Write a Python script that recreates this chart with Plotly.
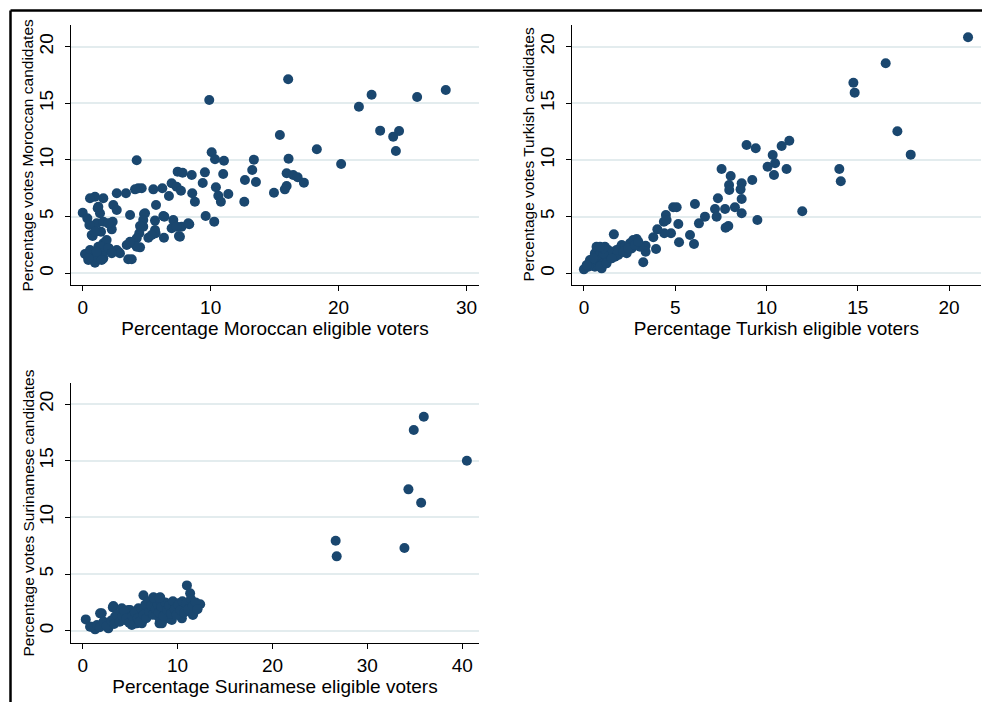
import plotly.graph_objects as go

# ---------------- Data ----------------
mor_x = [9.89, 16.06, 15.41, 18.3, 16.09, 10.08, 10.34, 11.04, 4.22, 13.38, 13.25, 9.55, 10.98, 7.42, 7.81,
         8.52, 15.94, 16.45, 16.8, 17.29, 12.68, 13.54, 9.38, 6.95, 7.34, 7.68, 10.41, 15.94, 15.8, 14.95,
         11.38, 10.6, 8.56, 6.74, 6.22, 5.52, 4.34, 4.61, 4.09, 3.38, 2.66, 8.77, 10.8, 12.63, 5.73,
         2.39, 2.66, 3.7, 4.79, 9.61, 10.28, 6.3, 5.65, 7.08, 8.33, 7.73, 6.95, 7.52, 6.35, 5.7,
         5.13, 4.73, 4.42, 4.22, 4.48, 3.95, 3.44, 3.56, 3.83, 2.78, 2.05, 2.34, 2.27, 1.43, 1.09,
         1.35, 1.17, 1.61, 0.96, 0.57, 0.0, 0.36, 0.52, 0.78, 0.18, 0.44, 0.96, 0.7, 1.35, 1.61,
         1.87, 1.61, 1.22, 1.09, 1.87, 1.22, 1.61, 2.0, 4.87, 4.73, 4.48, 5.65, 5.39, 6.38, 7.34,
         7.6, 8.25, 4.22, 3.7, 2.66, 2.91, 0.7, 0.96, 1.48, 2.0, 1.48, 2.27, 0.57, 1.09, 28.38,
         26.14, 22.58, 21.59, 23.25, 24.73, 24.27, 24.48, 20.2, 0.44]
mor_y = [15.3, 17.12, 12.2, 10.94, 10.11, 10.68, 10.06, 9.94, 9.97, 10.03, 9.12, 8.91, 8.76, 8.97, 8.88,
         8.68, 8.83, 8.68, 8.47, 8.0, 8.23, 8.06, 7.97, 7.94, 7.64, 7.29, 7.59, 7.7, 7.41, 7.11,
         7.0, 6.85, 7.06, 6.82, 7.5, 7.41, 7.5, 7.5, 7.41, 7.06, 7.06, 6.32, 6.32, 6.32, 6.03,
         6.03, 5.59, 5.15, 5.24, 5.06, 4.56, 5.06, 4.65, 4.7, 4.33, 4.12, 3.97, 3.29, 3.14, 3.53,
         3.14, 4.12, 3.53, 3.09, 2.29, 2.65, 2.5, 1.24, 1.24, 1.91, 2.21, 4.55, 3.88, 3.67, 4.41,
         5.3, 5.74, 6.62, 6.76, 6.62, 5.35, 4.85, 4.26, 3.29, 1.7, 1.17, 0.94, 1.76, 1.62, 1.32,
         1.99, 2.65, 2.35, 1.47, 2.94, 5.88, 4.55, 4.41, 5.3, 4.7, 4.17, 3.82, 3.38, 5.0, 4.12,
         3.23, 4.41, 2.35, 2.79, 2.06, 1.77, 3.38, 3.67, 2.35, 2.21, 1.17, 1.77, 2.06, 1.91, 16.18,
         15.56, 15.76, 14.7, 12.59, 12.56, 12.06, 10.79, 9.65, 1.32]

tur_x = [21.04, 16.53, 14.76, 14.83, 17.17, 17.9, 13.99, 14.07, 11.96, 11.25, 10.83, 8.91, 9.41, 10.34,
         10.47, 10.06, 11.1, 10.41, 7.54, 8.04, 9.22, 7.95, 8.64, 7.96, 8.58, 8.64, 7.34, 8.27, 7.73,
         7.18, 7.27, 8.64, 9.5, 7.91, 7.76, 6.08, 6.63, 6.3, 5.81, 6.03, 5.17, 5.21, 4.77, 4.89, 5.08,
         4.49, 4.38, 4.53, 4.4, 4.02, 3.8, 3.95, 3.38, 3.38, 3.25, 2.89, 1.64,
         0.0, 0.42, 0.6, 0.69, 0.6, 0.79, 0.88, 0.97, 1.06, 1.24, 1.42, 1.61, 1.7, 1.88, 1.97, 2.07,
         2.25, 2.34, 2.52, 2.61, 2.7, 3.07, 1.15, 0.97, 0.69, 0.33, 0.24, 0.88, 1.24, 1.51, 1.79,
         2.16, 2.43, 2.79, 2.98, 1.33, 1.06, 0.51, 0.15, 1.06, 0.88]
tur_y = [20.83, 18.53, 16.82, 15.94, 12.53, 10.47, 9.21, 8.12, 5.47, 11.7, 11.24, 11.32, 11.03, 10.44,
         9.71, 9.41, 9.21, 8.68, 9.21, 8.59, 8.24, 7.79, 7.94, 7.35, 7.41, 6.56, 6.62, 5.83, 5.68,
         5.68, 5.0, 5.3, 4.7, 4.17, 4.02, 6.12, 5.0, 4.41, 3.38, 2.59, 4.35, 2.74, 3.53, 5.83, 5.83,
         5.15, 4.55, 4.7, 3.53, 3.88, 3.18, 2.15, 2.44, 1.91, 0.97, 3.03, 3.44,
         0.35, 0.88, 0.58, 1.17, 1.77, 2.2, 1.77, 1.32, 0.88, 1.47, 1.77, 1.91, 1.47, 1.62, 2.2, 2.5,
         2.35, 1.77, 2.65, 2.2, 2.94, 2.35, 2.35, 0.44, 2.35, 1.17, 0.58, 0.58, 0.88, 1.32, 2.06,
         1.91, 2.2, 2.5, 2.79, 2.06, 1.77, 1.32, 0.73, 2.2, 2.35]

sur_x = [35.95, 34.89, 40.49, 34.33, 35.67, 33.91, 26.66, 26.77, 10.98, 6.4, 11.32, 8.16, 7.45, 12.38,
         11.61, 8.09, 3.17, 2.0, 0.32, 0.95, 1.3, 2.7, 4.81, 3.59, 5.7, 10.27, 9.03, 11.67, 1.83,
         3.23, 0.77, 4.12, 4.99, 5.87, 3.41, 4.46, 5.52, 6.58, 7.28, 7.98, 8.69, 9.39, 10.09, 10.8,
         8.34, 9.39, 10.45, 6.23, 5.17, 1.5, 1.8, 2.2, 2.5, 3.0, 3.3, 3.6, 3.9, 4.2, 4.4, 4.6, 4.9,
         5.2, 5.5, 5.8, 6.0, 6.2, 6.4, 6.6, 6.7, 6.9, 7.0, 7.2, 7.4, 7.6, 7.7, 7.9, 8.0, 8.3, 8.5,
         8.7, 8.9, 9.1, 9.3, 9.5, 9.7, 9.9, 10.1, 10.3, 10.5, 10.7, 10.9, 11.1, 11.4, 11.6, 11.9,
         12.1, 7.5, 8.1]
sur_y = [18.88, 17.71, 15.0, 12.47, 11.29, 7.3, 7.94, 6.56, 4.0, 3.12, 3.3, 2.95, 2.95, 2.33,
         1.39, 0.65, 2.06, 1.53, 1.0, 0.35, 0.12, 0.21, 1.83, 1.09, 0.65, 1.39, 1.09, 1.53, 1.53,
         2.18, 0.35, 1.98, 1.83, 1.98, 1.24, 0.94, 0.65, 1.53, 1.83, 1.24, 1.53, 2.12, 2.42, 2.12,
         0.65, 0.94, 1.09, 0.65, 0.5, 0.5, 0.3, 0.8, 0.4, 0.9, 0.6, 1.4, 0.8, 1.3, 1.7, 1.1, 0.7,
         1.3, 1.6, 1.1, 0.8, 1.9, 1.4, 2.3, 1.1, 2.6, 1.7, 2.2, 1.4, 2.7, 1.9, 2.3, 1.6, 2.1, 1.3,
         2.5, 1.8, 2.2, 1.5, 2.6, 1.9, 1.4, 2.3, 1.8, 2.6, 1.6, 2.4, 1.9, 2.8, 2.2, 2.5,
         1.9, 2.9, 2.9]

x_titles = ["Percentage Moroccan eligible voters", "Percentage Turkish eligible voters",
            "Percentage Surinamese eligible voters"]
y_titles = ["Percentage votes Moroccan candidates", "Percentage votes Turkish candidates",
            "Percentage votes Surinamese candidates"]
x_ticks = [[0, 10, 20, 30], [0, 5, 10, 15, 20], [0, 10, 20, 30, 40]]
y_ticks = [0, 5, 10, 15, 20]

# ---------------- Style ----------------
W, H = 982, 702
NAVY = "#1a476f"
FONT = "Liberation Sans, Arial, Helvetica, sans-serif"

def fx(px):
    return px / W

def fy(py):
    return 1 - py / H

panels = [
    dict(xd=[fx(70.7), fx(479.3)], yd=[fy(285), fy(25)], xr=[-0.94, 31.0], yr=[-1.03, 21.91], ytx=27.5),
    dict(xd=[fx(571.7), fx(981)], yd=[fy(285), fy(25)], xr=[-0.67, 21.75], yr=[-1.03, 21.91], ytx=528.5),
    dict(xd=[fx(70.7), fx(479.3)], yd=[fy(643.3), fy(382.7)], xr=[-1.27, 41.8], yr=[-1.11, 21.88], ytx=27.5),
]
data = [(mor_x, mor_y), (tur_x, tur_y), (sur_x, sur_y)]

fig = go.Figure()
layout = dict(
    width=W, height=H,
    margin=dict(l=0, r=0, t=0, b=0),
    paper_bgcolor="white", plot_bgcolor="white",
    showlegend=False,
    font=dict(family=FONT, color="black"),
)
annotations = []

for i, (p, (xs, ys)) in enumerate(zip(panels, data)):
    n = i + 1
    xa = "x" if n == 1 else f"x{n}"
    ya = "y" if n == 1 else f"y{n}"
    fig.add_trace(go.Scatter(x=xs, y=ys, mode="markers", xaxis=xa, yaxis=ya,
                             marker=dict(color=NAVY, size=10, line=dict(width=0))))
    xkey = "xaxis" if n == 1 else f"xaxis{n}"
    ykey = "yaxis" if n == 1 else f"yaxis{n}"
    layout[xkey] = dict(
        domain=p["xd"], range=p["xr"], anchor=ya,
        tickmode="array", tickvals=x_ticks[i],
        ticks="outside", ticklen=5, tickwidth=1, tickcolor="black",
        showline=True, linecolor="black", linewidth=1,
        showgrid=False, zeroline=False,
        tickfont=dict(size=19, family=FONT, color="black"),
        title=dict(text=x_titles[i], font=dict(size=19, family=FONT, color="black"), standoff=2),
        fixedrange=True,
    )
    layout[ykey] = dict(
        domain=p["yd"], range=p["yr"], anchor=xa,
        tickmode="array", tickvals=y_ticks, tickangle=-90,
        ticks="outside", ticklen=5, tickwidth=1, tickcolor="black",
        showline=True, linecolor="black", linewidth=1,
        showgrid=True, gridcolor="#e3ecee", gridwidth=1.5, zeroline=False,
        tickfont=dict(size=19, family=FONT, color="black"),
        ticklabelstandoff=4,
        fixedrange=True,
    )
    annotations.append(dict(
        text=y_titles[i], textangle=-90, showarrow=False,
        xref="paper", yref="paper", x=fx(p["ytx"]), y=(p["yd"][0] + p["yd"][1]) / 2,
        xanchor="center", yanchor="middle",
        font=dict(size=15.5, family=FONT, color="black"),
    ))

layout["annotations"] = annotations
fig.update_layout(**layout)

# frame lines (top and left edges of the graph region)
fig.add_shape(type="line", xref="paper", yref="paper", x0=fx(10.5), x1=1.01, y0=fy(10.5), y1=fy(10.5),
              line=dict(color="black", width=2.5))
fig.add_shape(type="line", xref="paper", yref="paper", x0=fx(10.5), x1=fx(10.5), y0=fy(10.5), y1=-0.01,
              line=dict(color="black", width=2.5))

fig.write_html("out.html")
